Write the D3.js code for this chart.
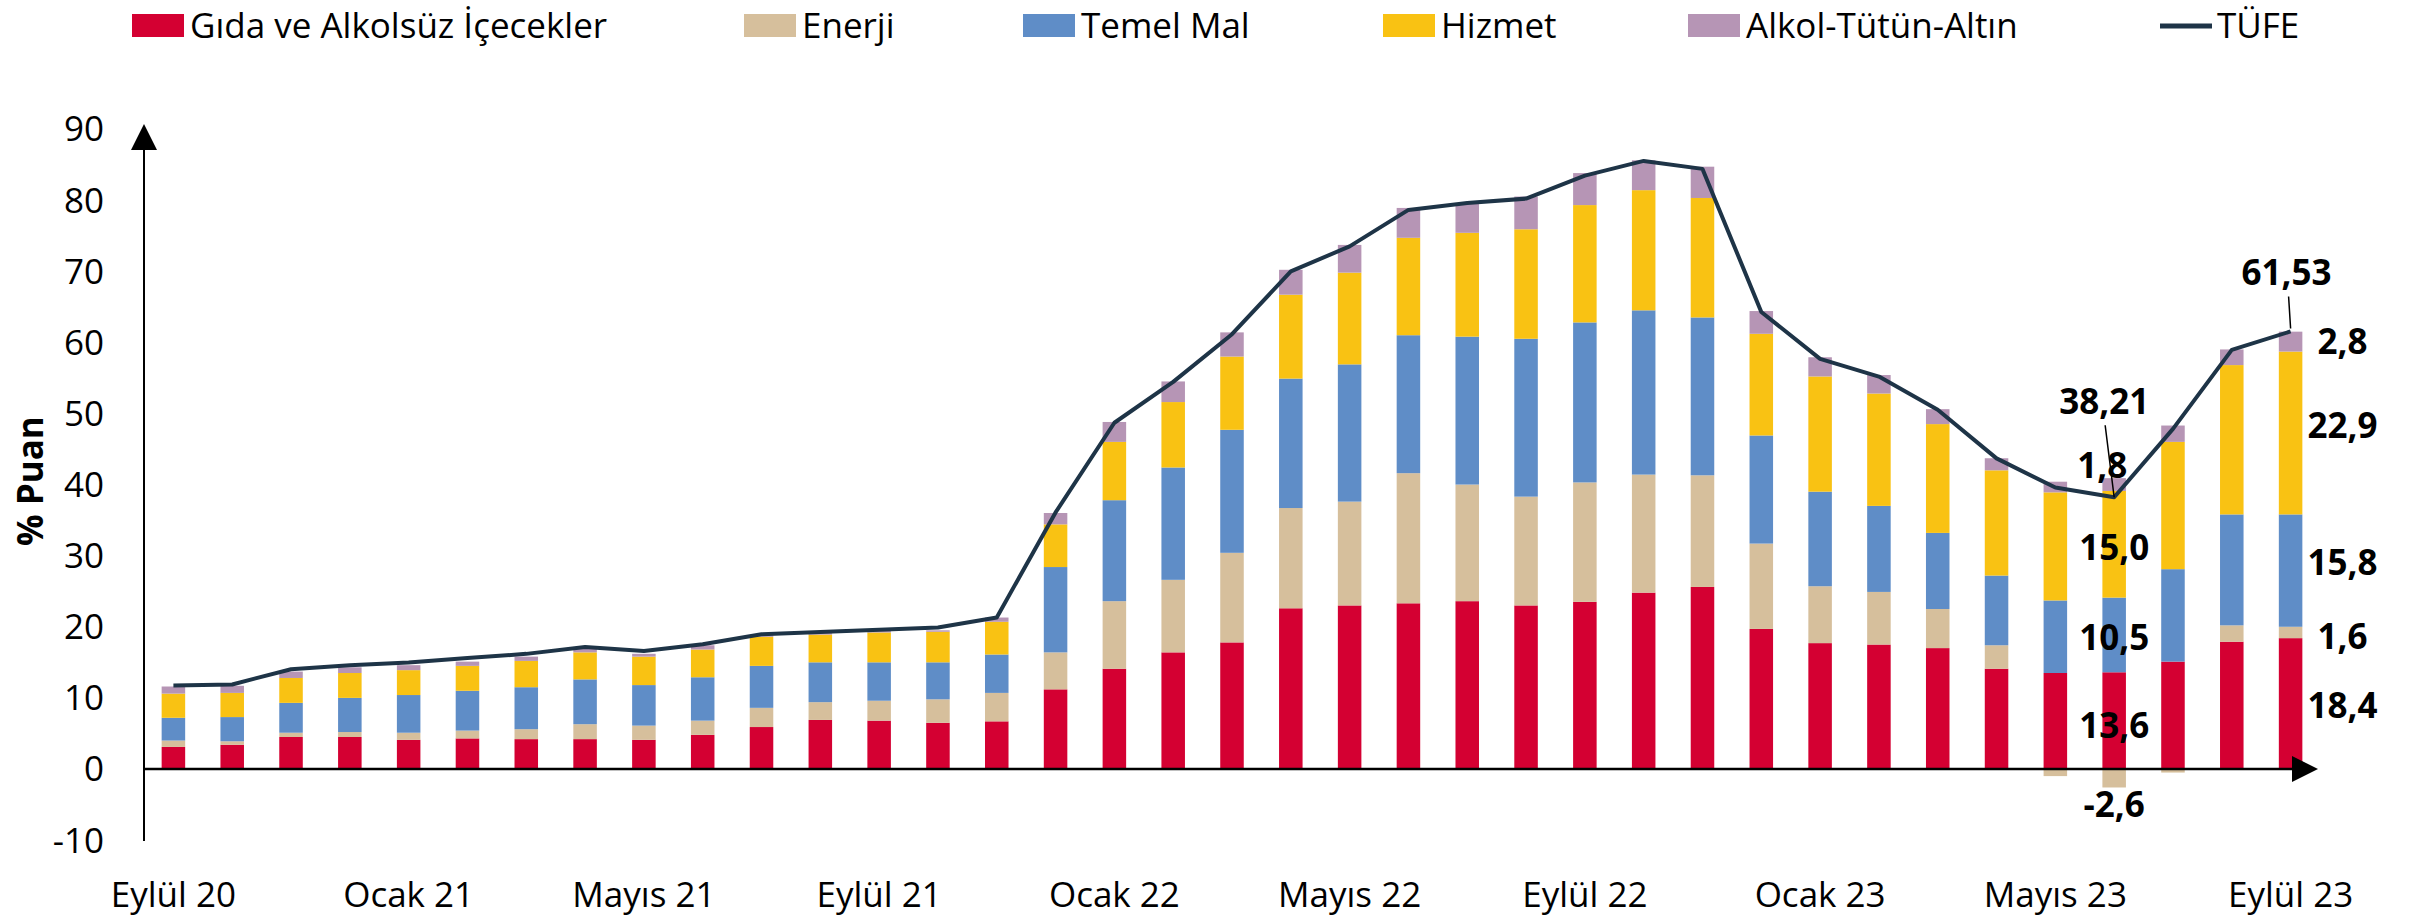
<!DOCTYPE html>
<html>
<head>
<meta charset="utf-8">
<script src="https://cdn.jsdelivr.net/npm/d3@7"></script>
<style>
  html, body { margin: 0; padding: 0; background: #fff; }
  svg { display: block; font-family: "Open Sans", "Noto Sans", sans-serif; }
</style>
</head>
<body>
<svg id="chart" width="2412" height="922"></svg>
<script>
// ---------- DATA ----------
const months = ["Eylül 20","Ekim 20","Kasım 20","Aralık 20","Ocak 21","Şubat 21","Mart 21","Nisan 21","Mayıs 21","Haziran 21","Temmuz 21","Ağustos 21","Eylül 21","Ekim 21","Kasım 21","Aralık 21","Ocak 22","Şubat 22","Mart 22","Nisan 22","Mayıs 22","Haziran 22","Temmuz 22","Ağustos 22","Eylül 22","Ekim 22","Kasım 22","Aralık 22","Ocak 23","Şubat 23","Mart 23","Nisan 23","Mayıs 23","Haziran 23","Temmuz 23","Ağustos 23","Eylül 23"];
const tickMonths = ["Eylül 20","Ocak 21","Mayıs 21","Eylül 21","Ocak 22","Mayıs 22","Eylül 22","Ocak 23","Mayıs 23","Eylül 23"];
const yTicks = [-10,0,10,20,30,40,50,60,70,80,90];

const gida   = [3.1,3.4,4.5,4.5,4.1,4.3,4.2,4.2,4.1,4.8,5.9,6.9,6.8,6.5,6.7,11.2,14.1,16.4,17.8,22.6,23.0,23.3,23.6,23.0,23.5,24.8,25.6,19.7,17.7,17.5,17.0,14.1,13.5,13.6,15.1,17.9,18.4];
const enerji = [0.9,0.5,0.6,0.7,1.0,1.1,1.4,2.1,2.0,2.0,2.7,2.5,2.8,3.3,4.0,5.2,9.5,10.2,12.6,14.1,14.6,18.3,16.4,15.3,16.8,16.6,15.7,12.0,8.0,7.4,5.5,3.3,-1.0,-2.6,-0.5,2.3,1.6];
const temel  = [3.2,3.4,4.2,4.8,5.3,5.6,5.9,6.3,5.7,6.1,5.9,5.6,5.4,5.2,5.4,12.0,14.2,15.8,17.3,18.2,19.3,19.4,20.8,22.2,22.5,23.1,22.2,15.2,13.3,12.1,10.7,9.8,10.2,10.5,13.0,15.6,15.8];
const hizmet = [3.4,3.4,3.5,3.5,3.5,3.5,3.7,3.8,4.0,3.9,4.1,3.9,4.2,4.3,4.6,6.0,8.2,9.2,10.3,11.8,12.9,13.7,14.6,15.4,16.5,16.9,16.8,14.3,16.2,15.8,15.3,14.8,15.2,15.0,17.9,21.0,22.9];
const alkol  = [1.0,1.0,0.9,0.8,0.7,0.6,0.6,0.5,0.4,0.6,0.2,0.2,0.2,0.2,0.6,1.6,2.8,2.9,3.4,3.5,3.9,4.2,4.2,4.6,4.5,4.2,4.4,3.2,2.7,2.6,2.1,1.7,1.5,1.8,2.3,2.2,2.8];
const tufe   = [11.75,11.89,14.03,14.60,14.97,15.61,16.19,17.14,16.59,17.53,18.95,19.25,19.58,19.89,21.31,36.08,48.69,54.44,61.14,69.97,73.50,78.62,79.60,80.21,83.45,85.51,84.39,64.27,57.68,55.18,50.51,43.68,39.59,38.21,47.83,58.94,61.53];

const seriesNames = ["Gıda ve Alkolsüz İçecekler","Enerji","Temel Mal","Hizmet","Alkol-Tütün-Altın"];
const seriesKeys  = ["gida","enerji","temel","hizmet","alkol"];
const seriesColors = ["#D40032","#D6BF9C","#5F8DC7","#F9C213","#B695B5"];
const lineName = "TÜFE";
const lineColor = "#1E3447";

// annotated months
const annotMonths = ["Haziran 23","Eylül 23"];

// ---------- BUILD ----------
const table = months.map((m,i)=>({month:m, gida:gida[i], enerji:enerji[i], temel:temel[i], hizmet:hizmet[i], alkol:alkol[i], tufe:tufe[i]}));

const svg = d3.select("#chart");
const FONT = 35;

const x = d3.scaleBand().domain(months).range([144, 2320]).paddingInner(0.6).paddingOuter(0.3);
const y = d3.scaleLinear().domain([-10, 90]).range([840.1, 129]);

const stack = d3.stack().keys(seriesKeys).offset(d3.stackOffsetDiverging);
const stacked = stack(table);

// bars
const gBars = svg.append("g");
stacked.forEach((layer, li) => {
  gBars.selectAll(null).data(layer).enter().append("rect")
    .attr("x", d => x(d.data.month))
    .attr("width", x.bandwidth())
    .attr("y", d => y(Math.max(d[0], d[1])))
    .attr("height", d => Math.abs(y(d[0]) - y(d[1])))
    .attr("fill", seriesColors[li]);
});

// axes
const axisColor = "#000";
svg.append("line").attr("x1",144).attr("x2",144).attr("y1",y(-10)+1).attr("y2",140)
  .attr("stroke",axisColor).attr("stroke-width",2);
svg.append("path").attr("d","M131,150 L157,150 L144,124 Z").attr("fill",axisColor);
svg.append("line").attr("x1",144).attr("x2",2300).attr("y1",y(0)).attr("y2",y(0))
  .attr("stroke",axisColor).attr("stroke-width",2.5);
svg.append("path").attr("d",`M2292,${y(0)-13} L2292,${y(0)+13} L2318,${y(0)} Z`).attr("fill",axisColor);

// y tick labels (hyphen minus as in the reference)
const yAxis = d3.axisLeft(y).tickValues(yTicks).tickSize(0).tickPadding(0).tickFormat(d => String(d));
const gy = svg.append("g").attr("transform","translate(104,0)").call(yAxis);
gy.select(".domain").remove();
gy.selectAll("text").attr("font-size",FONT).attr("font-family","'Open Sans', sans-serif").attr("fill","#000").attr("dy","0.34em");

// x tick labels
const xAxis = d3.axisBottom(x).tickValues(tickMonths).tickSize(0).tickPadding(0);
const gx = svg.append("g").attr("transform","translate(0,880)").call(xAxis);
gx.select(".domain").remove();
gx.selectAll("text").attr("font-size",FONT).attr("font-family","'Open Sans', sans-serif").attr("fill","#000").attr("dy","0.76em");

// y title
svg.append("text").attr("transform","translate(43,481) rotate(-90)")
  .attr("text-anchor","middle").attr("font-size",FONT).attr("font-weight","bold").text("% Puan");

// TÜFE line
const line = d3.line().x(d => x(d.month) + x.bandwidth()/2).y(d => y(d.tufe));
svg.append("path").datum(table).attr("d", line).attr("fill","none")
  .attr("stroke", lineColor).attr("stroke-width",4).attr("stroke-linejoin","round");

// ---------- annotations ----------
const fmt = v => d3.format(".1f")(v).replace("\u2212","-").replace(".", ",");
const fmt2 = v => d3.format(".2f")(v).replace("\u2212","-").replace(".", ",");
const gAnn = svg.append("g").attr("font-size",FONT).attr("font-weight","bold").attr("fill","#000");

// Haziran 23
{
  const m = annotMonths[0];
  const i = months.indexOf(m);
  const cx = x(m) + x.bandwidth()/2;
  const seg = k => stacked[seriesKeys.indexOf(k)][i];
  const mid = k => { const L = seg(k); return (y(L[0]) + y(L[1]))/2; };
  [["gida",0,4],["temel",0,2],["hizmet",0,2]].forEach(([k,dx,dy]) => {
    gAnn.append("text").attr("x",cx+dx).attr("y",mid(k)+dy).attr("text-anchor","middle")
      .attr("dominant-baseline","central").text(fmt(table[i][k]));
  });
  gAnn.append("text").attr("x",cx).attr("y",y(seg("enerji")[0]) + 16).attr("text-anchor","middle")
    .attr("dominant-baseline","central").text(fmt(table[i].enerji));
  gAnn.append("text").attr("x",cx-12).attr("y",y(seg("alkol")[1]) - 14).attr("text-anchor","middle")
    .attr("dominant-baseline","central").text(fmt(table[i].alkol));
  gAnn.append("text").attr("x",cx-10).attr("y",y(table[i].tufe) - 97).attr("text-anchor","middle")
    .attr("dominant-baseline","central").text(fmt2(table[i].tufe));
  svg.append("line").attr("x1",cx-9).attr("y1",y(table[i].tufe)-72).attr("x2",cx).attr("y2",y(table[i].tufe))
    .attr("stroke","#000").attr("stroke-width",1.5);
}
// Eylül 23
{
  const m = annotMonths[1];
  const i = months.indexOf(m);
  const cx = x(m) + x.bandwidth()/2;
  const mid = k => { const L = stacked[seriesKeys.indexOf(k)][i]; return (y(L[0]) + y(L[1]))/2; };
  const offs = {gida:1, enerji:3, temel:-9, hizmet:-8, alkol:-1};
  seriesKeys.forEach(k => {
    gAnn.append("text").attr("x",cx+52).attr("y",mid(k)+offs[k]).attr("text-anchor","middle")
      .attr("dominant-baseline","central").text(fmt(table[i][k]));
  });
  gAnn.append("text").attr("x",cx-4).attr("y",y(table[i].tufe) - 60).attr("text-anchor","middle")
    .attr("dominant-baseline","central").text(fmt2(table[i].tufe));
  svg.append("line").attr("x1",cx-2).attr("y1",y(table[i].tufe)-35).attr("x2",cx).attr("y2",y(table[i].tufe)-3)
    .attr("stroke","#000").attr("stroke-width",1.5);
}

// ---------- legend ----------
const legendX = [132, 744, 1023, 1383, 1688];
const LY = 4; // small downward shift so glyph tops stay inside the picture
const gLeg = svg.append("g").attr("font-size",FONT).attr("fill","#000");
seriesNames.forEach((n, i) => {
  gLeg.append("rect").attr("x",legendX[i]).attr("y",10+LY).attr("width",52).attr("height",23).attr("fill",seriesColors[i]);
  gLeg.append("text").attr("x",legendX[i]+58).attr("y",34+LY).text(n);
});
gLeg.append("line").attr("x1",2160).attr("x2",2212).attr("y1",22+LY).attr("y2",22+LY)
  .attr("stroke",lineColor).attr("stroke-width",5);
gLeg.append("text").attr("x",2217).attr("y",34+LY).text(lineName);
</script>
</body>
</html>
